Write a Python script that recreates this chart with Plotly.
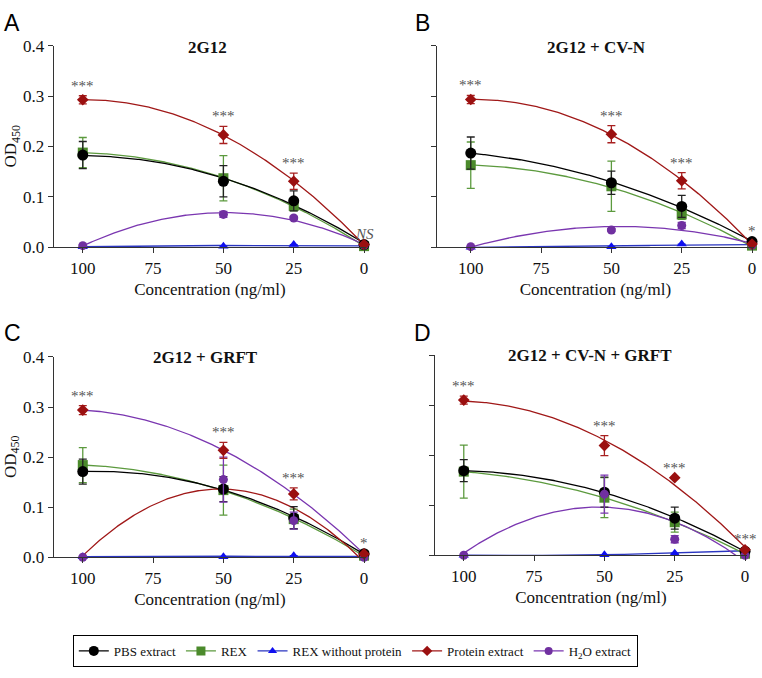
import numpy as np
import plotly.graph_objects as go

# ---------------- data ----------------
CONC = [100, 50, 25, 0]
X_TICKS = [100, 75, 50, 25, 0]
Y_TICKS = [0.0, 0.1, 0.2, 0.3, 0.4]

SERIES = ["PBS extract", "REX", "REX without protein", "Protein extract", "H<sub>2</sub>O extract"]
PANEL_TITLES = ["2G12", "2G12 + CV-N", "2G12 + GRFT", "2G12 + CV-N + GRFT"]
PANEL_LETTERS = ["A", "B", "C", "D"]

# Panel A : 2G12
A_PBS = [0.183, 0.131, 0.092, 0.005]
A_PBS_ERR = [0.027, 0.031, 0.020, 0.002]
A_REX = [0.188, 0.137, 0.082, 0.002]
A_REX_ERR = [0.030, 0.045, 0.010, 0.002]
A_NOPROT = [0.001, 0.002, 0.005, 0.002]
A_NOPROT_ERR = [0.0, 0.0, 0.0, 0.0]
A_PROT = [0.293, 0.223, 0.131, 0.005]
A_PROT_ERR = [0.008, 0.017, 0.016, 0.002]
A_H2O = [0.003, 0.065, 0.058, 0.004]
A_H2O_ERR = [0.002, 0.006, 0.003, 0.001]
A_SIG = ["***", "***", "***", "<i>NS</i>"]

# Panel B : 2G12 + CV-N
B_PBS = [0.187, 0.128, 0.081, 0.011]
B_PBS_ERR = [0.032, 0.023, 0.022, 0.002]
B_REX = [0.163, 0.121, 0.065, 0.003]
B_REX_ERR = [0.046, 0.050, 0.010, 0.002]
B_NOPROT = [0.000, 0.001, 0.006, 0.004]
B_NOPROT_ERR = [0.0, 0.0, 0.0, 0.0]
B_PROT = [0.2935, 0.2245, 0.132, 0.006]
B_PROT_ERR = [0.008, 0.017, 0.016, 0.002]
B_H2O = [0.001, 0.034, 0.043, 0.004]
B_H2O_ERR = [0.0, 0.003, 0.006, 0.0]
B_SIG = ["***", "***", "***", "*"]

# Panel C : 2G12 + GRFT
C_PBS = [0.171, 0.136, 0.079, 0.007]
C_PBS_ERR = [0.025, 0.025, 0.022, 0.002]
C_REX = [0.184, 0.134, 0.076, 0.003]
C_REX_ERR = [0.035, 0.050, 0.020, 0.002]
C_NOPROT = [0.001, 0.001, 0.003, 0.001]
C_NOPROT_ERR = [0.0, 0.0, 0.0, 0.0]
C_PROT = [0.294, 0.2135, 0.1265, 0.0065]
C_PROT_ERR = [0.009, 0.016, 0.012, 0.002]
C_H2O = [0.0, 0.155, 0.073, 0.0]
C_H2O_ERR = [0.0, 0.045, 0.017, 0.0]
C_SIG = ["***", "***", "***", "*"]

# Panel D : 2G12 + CV-N + GRFT
D_PBS = [0.169, 0.126, 0.074, 0.008]
D_PBS_ERR = [0.022, 0.030, 0.022, 0.002]
D_REX = [0.167, 0.115, 0.066, 0.003]
D_REX_ERR = [0.053, 0.040, 0.020, 0.002]
D_NOPROT = [0.000, 0.001, 0.004, 0.009]
D_NOPROT_ERR = [0.0, 0.0, 0.0, 0.0]
D_PROT = [0.310, 0.219, 0.155, 0.011]
D_PROT_ERR = [0.008, 0.020, 0.0, 0.002]
D_H2O = [0.0, 0.122, 0.032, 0.0]
D_H2O_ERR = [0.0, 0.038, 0.007, 0.0]
D_SIG = ["***", "***", "***", "***"]

PANELS = [
    [(A_PBS, A_PBS_ERR), (A_REX, A_REX_ERR), (A_NOPROT, A_NOPROT_ERR), (A_PROT, A_PROT_ERR), (A_H2O, A_H2O_ERR)],
    [(B_PBS, B_PBS_ERR), (B_REX, B_REX_ERR), (B_NOPROT, B_NOPROT_ERR), (B_PROT, B_PROT_ERR), (B_H2O, B_H2O_ERR)],
    [(C_PBS, C_PBS_ERR), (C_REX, C_REX_ERR), (C_NOPROT, C_NOPROT_ERR), (C_PROT, C_PROT_ERR), (C_H2O, C_H2O_ERR)],
    [(D_PBS, D_PBS_ERR), (D_REX, D_REX_ERR), (D_NOPROT, D_NOPROT_ERR), (D_PROT, D_PROT_ERR), (D_H2O, D_H2O_ERR)],
]
SIGS = [A_SIG, B_SIG, C_SIG, D_SIG]

# ---------------- styles ----------------
W, H = 762, 678
SERIF = "Liberation Serif"
SANS = "Liberation Sans"

MARKER_COLORS = ["#000000", "#4b8a2b", "#1010f0", "#9b1010", "#7030a0"]
LINE_COLORS = ["#000000", "#5c9a3e", "#2a35c0", "#a01818", "#7a36b0"]
ERR_COLORS = ["#222222", "#5c9a3e", "#2a35c0", "#a82020", "#7a36b0"]
SYMBOLS = ["circle", "square", "triangle-up", "diamond", "circle"]
SIZES = [11, 10, 9, 9, 9]
DRAW_ORDER = [2, 1, 0, 4, 3]
# panel C: fitted curve colours of Protein / H2O are swapped in the original
FIT_COLOR_MAP = [None, None, {3: 4, 4: 3}, None]

# pixel layout of the four panels: (left, right, bottom, top, x_at_100, x_at_0)
PANEL_PX = [
    (54, 367, 245, 38, 83, 365),
    (438, 756, 245, 38, 472, 754),
    (54, 367, 564, 358, 83, 365),
    (436, 749, 562, 356, 465, 747),
]
TITLE_PX = [(208, 40), (598, 40), (206, 359), (592, 357)]
LETTER_PX = [(12.5, 14), (424, 14), (12.5, 333), (424, 333)]


def px_x(p):
    return p / W


def px_y(p):
    return (H - p) / H


fig = go.Figure()
annotations = []
grid = np.linspace(0, 100, 201)
layout_axes = {}

for pi, panel in enumerate(PANELS):
    xa = "x" if pi == 0 else f"x{pi + 1}"
    ya = "y" if pi == 0 else f"y{pi + 1}"
    fmap = FIT_COLOR_MAP[pi] or {}

    for si in DRAW_ORDER:
        vals, errs = panel[si]
        coef = np.polyfit(CONC, vals, 2)
        fit = np.polyval(coef, grid)
        fc = LINE_COLORS[fmap.get(si, si)]
        fig.add_trace(go.Scatter(
            x=grid, y=fit, mode="lines", xaxis=xa, yaxis=ya,
            line=dict(color=fc, width=1.3), showlegend=False, hoverinfo="skip"))
    for si in DRAW_ORDER:
        vals, errs = panel[si]
        fig.add_trace(go.Scatter(
            x=CONC, y=vals, mode="markers", xaxis=xa, yaxis=ya,
            name=SERIES[si], showlegend=False, cliponaxis=False,
            marker=dict(symbol=SYMBOLS[si], size=SIZES[si], color=MARKER_COLORS[si]),
            error_y=dict(type="data", array=errs, visible=True,
                         color=ERR_COLORS[si], thickness=1.3, width=4)))

    # significance labels
    for ci, c in enumerate(CONC):
        top = max(panel[s][0][ci] + panel[s][1][ci] for s in range(len(SERIES)))
        annotations.append(dict(
            x=c, y=top, xref=xa, yref=ya, text=SIGS[pi][ci], showarrow=False,
            yanchor="bottom", yshift=0,
            font=dict(family=SERIF, size=15, color="#555555")))

    left, right, bottom, top_px, x100, x0 = PANEL_PX[pi]
    ppu = (x0 - x100) / 100.0
    rng = [100 + (x100 - left) / ppu, 0 - (right - x0) / ppu]
    ax_common = dict(showline=True, linecolor="#333333", linewidth=1.3,
                     ticks="outside", ticklen=5, tickwidth=1.3, tickcolor="#333333",
                     showgrid=False, zeroline=False,
                     tickfont=dict(family=SERIF, size=17, color="#111111"))
    layout_axes["xaxis" if pi == 0 else f"xaxis{pi + 1}"] = dict(
        ax_common, domain=[px_x(left), px_x(right)], range=rng, anchor=ya,
        tickvals=X_TICKS,
        title=dict(text="Concentration (ng/ml)", standoff=6,
                   font=dict(family=SERIF, size=17, color="#111111")))
    layout_axes["yaxis" if pi == 0 else f"yaxis{pi + 1}"] = dict(
        ax_common, domain=[px_y(bottom), px_y(top_px)], range=[0, 0.4], anchor=xa,
        tickvals=Y_TICKS, tickformat=".1f", showticklabels=(pi % 2 == 0))

    tx, ty = TITLE_PX[pi]
    annotations.append(dict(x=px_x(tx), y=px_y(ty), xref="paper", yref="paper",
                            text=f"<b>{PANEL_TITLES[pi]}</b>", showarrow=False,
                            xanchor="center", yanchor="middle",
                            font=dict(family=SERIF, size=17, color="#111111")))
    lx, ly = LETTER_PX[pi]
    annotations.append(dict(x=px_x(lx), y=px_y(ly), xref="paper", yref="paper",
                            text=PANEL_LETTERS[pi], showarrow=False,
                            xanchor="center", yanchor="middle",
                            font=dict(family=SANS, size=23, color="#000000")))
    if pi % 2 == 0:
        annotations.append(dict(x=px_x(12), y=(px_y(bottom) + px_y(top_px)) / 2,
                                xref="paper", yref="paper", text="OD<sub>450</sub>",
                                textangle=-90, showarrow=False,
                                xanchor="center", yanchor="middle",
                                font=dict(family=SERIF, size=17, color="#111111")))

# legend-only entries
for si in range(len(SERIES)):
    fig.add_trace(go.Scatter(
        x=[None], y=[None], mode="lines+markers", name=SERIES[si],
        line=dict(color=LINE_COLORS[si], width=1.3),
        marker=dict(symbol=SYMBOLS[si], size=SIZES[si] - 1, color=MARKER_COLORS[si]),
        showlegend=True))

fig.update_layout(
    width=W, height=H,
    margin=dict(l=0, r=0, t=0, b=0),
    paper_bgcolor="white", plot_bgcolor="white",
    font=dict(family=SERIF, size=17, color="#111111"),
    annotations=annotations,
    legend=dict(orientation="h", x=px_x(73), xanchor="left", y=px_y(644), yanchor="top",
                bordercolor="#000000", borderwidth=1,
                font=dict(family=SERIF, size=13, color="#111111"),
                itemwidth=30, traceorder="normal"),
    **layout_axes,
)

fig.write_html("out.html", config={"displayModeBar": False},
               post_script="document.body.style.margin='0px';")
